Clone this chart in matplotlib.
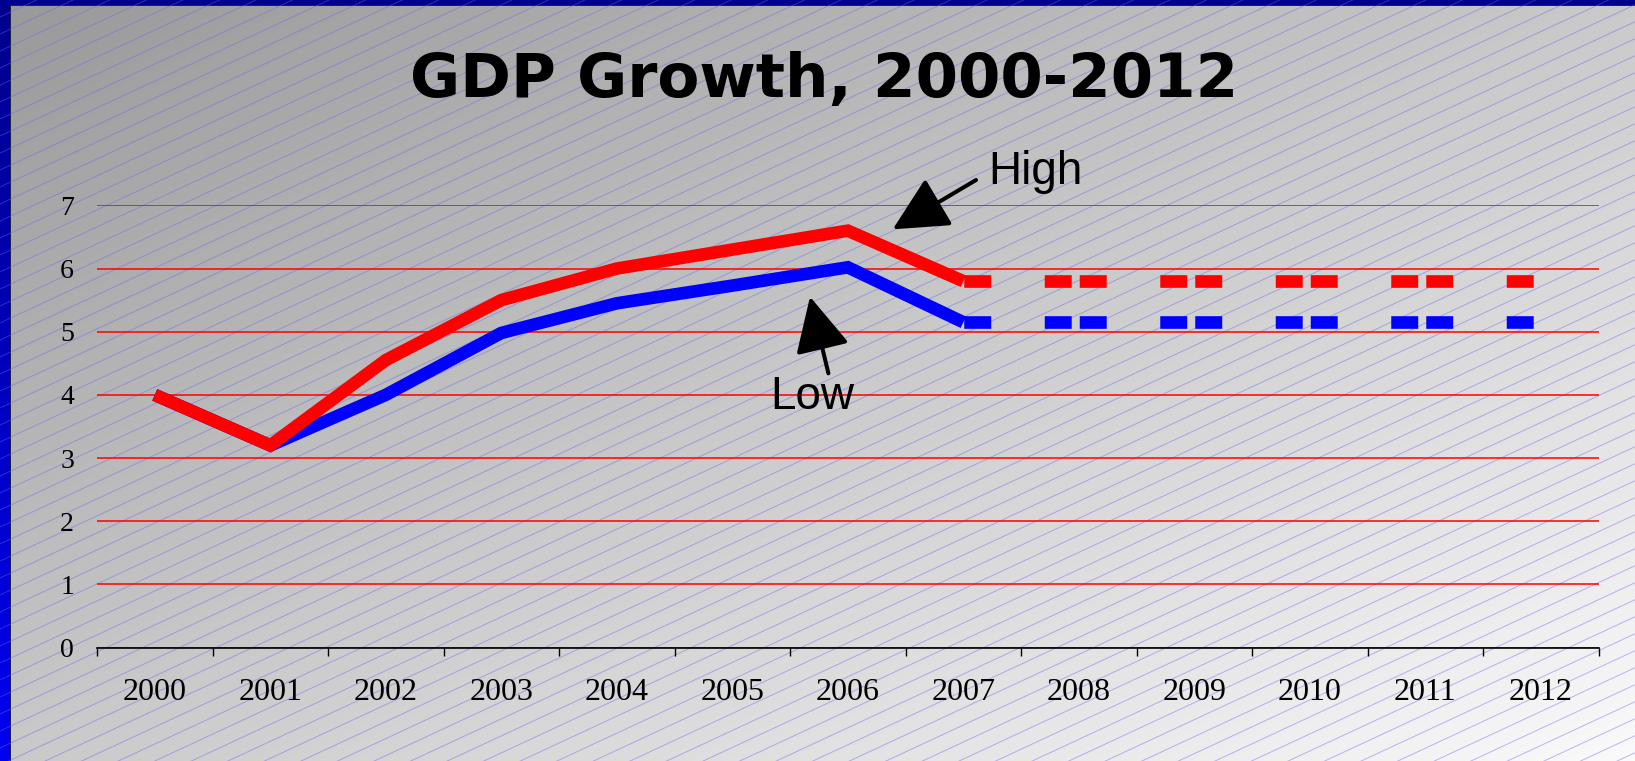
import numpy as np
import matplotlib
matplotlib.use("Agg")
import matplotlib.pyplot as plt
from matplotlib.collections import LineCollection
from matplotlib.patches import Rectangle, FancyArrowPatch

# ---------------- data ----------------
years = ["2000", "2001", "2002", "2003", "2004", "2005", "2006",
         "2007", "2008", "2009", "2010", "2011", "2012"]
high_actual = [4.0, 3.2, 4.55, 5.5, 6.0, 6.3, 6.6, 5.8]          # 2000-2007
low_actual = [4.0, 3.2, 4.0, 4.98, 5.45, 5.73, 6.02, 5.15]        # 2000-2007
high_proj = [5.8, 5.8, 5.8, 5.8, 5.8, 5.8]                         # 2007-2012
low_proj = [5.15, 5.15, 5.15, 5.15, 5.15, 5.15]                    # 2007-2012
y_ticks = [0, 1, 2, 3, 4, 5, 6, 7]
title = "GDP Growth, 2000-2012"

# ---------------- figure ----------------
W, H = 1635, 761
DPI = 100
plt.rcParams["lines.scale_dashes"] = False
fig = plt.figure(figsize=(W / DPI, H / DPI), dpi=DPI)

# background: diagonal grey gradient + lavender hatch + blue frame
bg = fig.add_axes([0, 0, 1, 1], zorder=-10)
bg.axis("off")
gx = np.linspace(0, 1, 400)
gy = np.linspace(0, 1, 200)
GX, GY = np.meshgrid(gx, gy)
t = (GX + GY) / 2.0
val = (153 + (250 - 153) * t) / 255.0
img = np.dstack([val, val, val])
bg.imshow(img, extent=[0, W, H, 0], aspect="auto", interpolation="bilinear")

slope = 0.465
step = 17.0
segs = []
b = 0.0
while b < H + slope * W + step:
    segs.append([(0, b), (W, b - slope * W)])
    b += step
bg.add_collection(LineCollection(segs, colors=[(0.40, 0.40, 0.92)], linewidths=0.75, alpha=0.42))

# left frame with vertical gradient
frame = np.linspace(0, 1, 200)[:, None]
left_img = np.dstack([np.zeros((200, 1)), np.zeros((200, 1)), (0.55 + 0.40 * frame)])
bg.imshow(left_img, extent=[0, 9.5, H, 0], aspect="auto", interpolation="bilinear")
bg.add_patch(Rectangle((0, 0), W, 4.5, facecolor="#00008e", edgecolor="none"))
bg.add_patch(Rectangle((9.5, 4.5), 1.2, H, facecolor="#202040", edgecolor="none"))
bg.add_patch(Rectangle((9.5, 4.5), W, 1.2, facecolor="#202030", edgecolor="none"))
bg.set_xlim(0, W)
bg.set_ylim(H, 0)

# ---------------- main axes ----------------
ax_left, ax_right = 97 / W, 1598.6 / W
ax_bottom, ax_top = 1 - 647.5 / H, 1 - 205.4 / H
ax = fig.add_axes([ax_left, ax_bottom, ax_right - ax_left, ax_top - ax_bottom])
ax.patch.set_alpha(0)

x_act = np.arange(len(high_actual))
x_proj = np.arange(len(high_actual) - 1, len(years))

lw = 9.1
ax.plot(x_act, low_actual, color="#0000ff", lw=lw, solid_capstyle="butt",
        solid_joinstyle="miter", zorder=3)
ax.plot(x_act, high_actual, color="#ff0000", lw=lw, solid_capstyle="butt",
        solid_joinstyle="miter", zorder=4)
dash_seq = (19.4, 38.56, 19.4, 5.8)
dash_pat = (sum(dash_seq) - 0.55, dash_seq)
ax.plot(x_proj, low_proj, color="#0000ff", lw=lw, linestyle=dash_pat,
        dash_capstyle="butt", zorder=3)
ax.plot(x_proj, high_proj, color="#ff0000", lw=lw, linestyle=dash_pat,
        dash_capstyle="butt", zorder=4)

ax.set_xlim(-0.5, len(years) - 0.5)
ax.set_ylim(0, 7)

# gridlines
ax.set_yticks(y_ticks)
ax.set_yticklabels([str(v) for v in y_ticks], fontsize=20, family="Liberation Serif")
ax.tick_params(axis="y", length=0, pad=16.5)
ax.yaxis.grid(True, color="#ff0000", lw=1.1)
ax.set_axisbelow(True)

# x axis: ticks at boundaries, labels at centres
ax.set_xticks(np.arange(-0.5, len(years), 1.0))
ax.set_xticklabels([])
ax.tick_params(axis="x", which="major", length=5.8, width=1.0, color="black", direction="out")
ax.set_xticks(np.arange(len(years)), minor=True)
ax.set_xticklabels(years, minor=True, fontsize=23, family="Liberation Serif")
ax.tick_params(axis="x", which="minor", length=0, pad=22)

for s in ["left", "right", "top"]:
    ax.spines[s].set_visible(False)
ax.spines["bottom"].set_color("black")
ax.spines["bottom"].set_linewidth(1.2)
ax.spines["bottom"].set_zorder(5)

# annotations
high_text_pos = (7.22, 7.334)
high_tail, high_tip = (7.110, 7.402), (6.389, 6.621)
low_text_pos = (5.33, 3.771)
low_tail, low_tip = (5.832, 4.341), (5.673, 5.554)

ax.text(*high_text_pos, "High", fontsize=33, family="Liberation Sans",
        ha="left", va="baseline", clip_on=False)
ax.text(*low_text_pos, "Low", fontsize=33, family="Liberation Sans",
        ha="left", va="baseline", clip_on=False)
for tail, tip in [(high_tail, high_tip), (low_tail, low_tip)]:
    arr = FancyArrowPatch(tail, tip, arrowstyle="-|>,head_length=34,head_width=17",
                          mutation_scale=1, lw=2.9, color="black",
                          shrinkA=0, shrinkB=0, clip_on=False, zorder=6)
    ax.add_patch(arr)

fig.text(0.504, 1 - 97 / H, title, ha="center", va="baseline",
         fontsize=44, fontweight="bold", family="DejaVu Sans")

fig.savefig("out.png", dpi=DPI)
